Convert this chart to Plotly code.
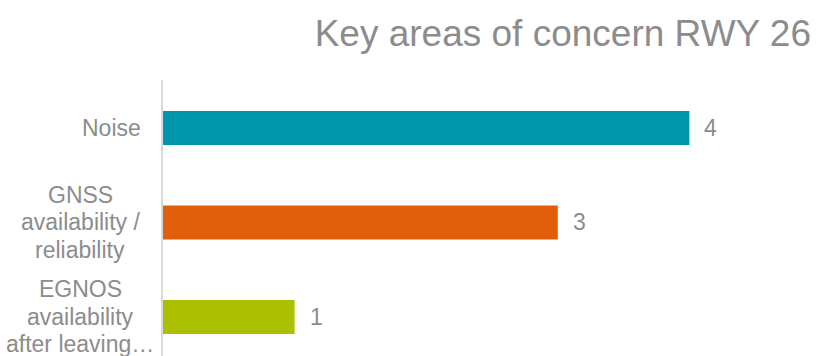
import plotly.graph_objects as go

categories = ["Noise", "GNSS<br>availability /<br>reliability", "EGNOS<br>availability<br>after leaving…"]
values = [4, 3, 1]
colors = ["#0096AB", "#E05E0C", "#ABC000"]
title_text = "Key areas of concern RWY 26"

GRAY = "#8C8C8C"
FONT = "Liberation Sans, Arial, sans-serif"
LABEL_CENTER_SHIFT = [-52, -83, -83]   # px left of the axis for each label block centre
LINE_STEP = 27.5

fig = go.Figure()
fig.add_trace(go.Bar(
    x=values, y=categories, orientation="h",
    marker=dict(color=colors, line=dict(width=0)),
    width=0.36, hoverinfo="skip",
))

for c, v in zip(categories, values):
    fig.add_annotation(x=v, y=c, text=str(v), showarrow=False,
                       xanchor="left", yanchor="middle", xshift=13,
                       font=dict(family=FONT, size=23, color=GRAY))

for c, sh in zip(categories, LABEL_CENTER_SHIFT):
    lines = c.split("<br>")
    n = len(lines)
    for j, ln in enumerate(lines):
        fig.add_annotation(x=0, y=c, text=ln, showarrow=False,
                           xanchor="center", yanchor="middle",
                           xshift=sh, yshift=-(j - (n - 1) / 2) * LINE_STEP,
                           font=dict(family=FONT, size=23, color=GRAY))

fig.update_layout(
    width=816, height=356,
    margin=dict(l=163, r=0, t=80, b=0, autoexpand=False),
    paper_bgcolor="white", plot_bgcolor="white",
    showlegend=False,
    title=dict(text=title_text, xref="container", yref="container",
               x=811/816, xanchor="right", y=1-33/356, yanchor="middle",
               font=dict(family=FONT, size=37, color=GRAY)),
    xaxis=dict(range=[0, 4.962], visible=False, fixedrange=True),
    yaxis=dict(type="category", categoryorder="array", categoryarray=categories,
               range=[2.413, -0.508], autorange=False, automargin=False,
               showline=True, linecolor="#D9D9D9", linewidth=1.5,
               showgrid=False, zeroline=False, ticks="", showticklabels=False),
)

fig.write_html("out.html")
